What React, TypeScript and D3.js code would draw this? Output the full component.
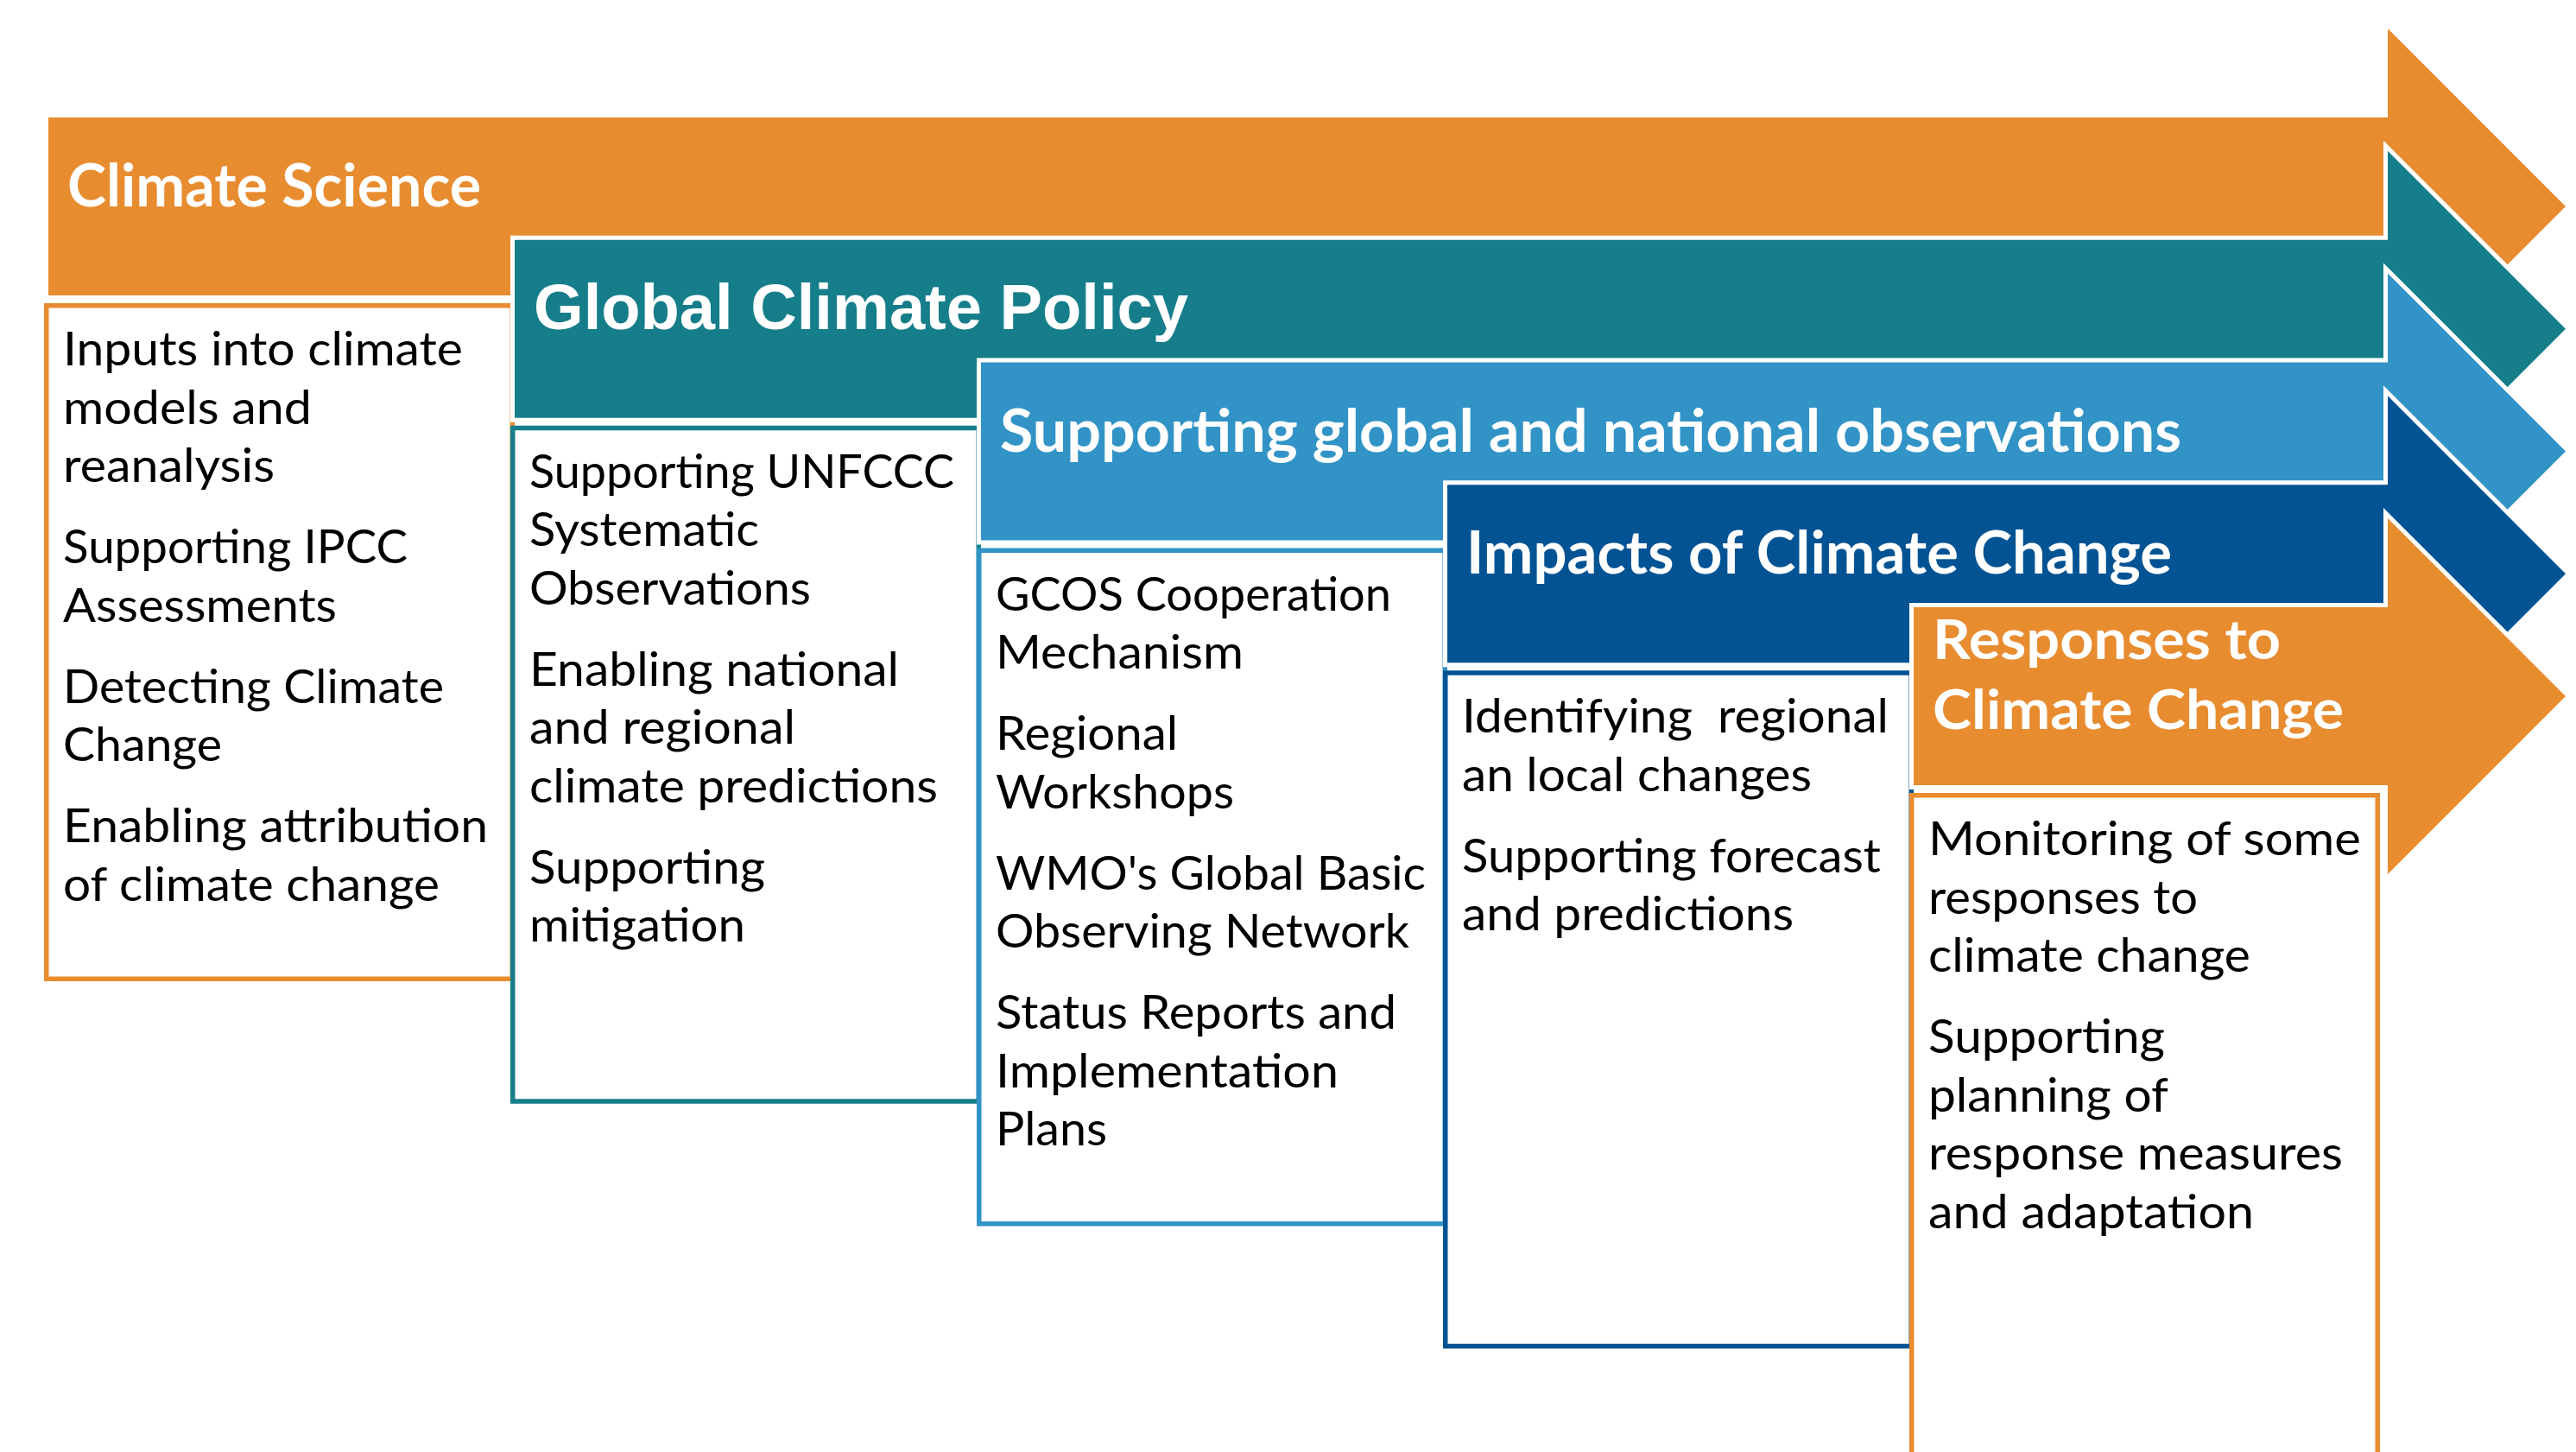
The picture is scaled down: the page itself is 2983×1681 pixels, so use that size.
import React from "react";
import * as d3 from "d3";

// ---------- data ----------
const STAGE_TITLES: string[][] = [
  ["Climate Science"],
  ["Global Climate Policy"],
  ["Supporting global and national observations"],
  ["Impacts of Climate Change"],
  ["Responses to", "Climate Change"],
];

const ITEMS_CLIMATE_SCIENCE: string[][] = [
  ["Inputs into climate", "models and", "reanalysis"],
  ["Supporting IPCC", "Assessments"],
  ["Detecting Climate", "Change"],
  ["Enabling attribution", "of climate change"],
];
const ITEMS_POLICY: string[][] = [
  ["Supporting UNFCCC", "Systematic", "Observations"],
  ["Enabling national", "and regional", "climate predictions"],
  ["Supporting", "mitigation"],
];
const ITEMS_OBSERVATIONS: string[][] = [
  ["GCOS Cooperation", "Mechanism"],
  ["Regional", "Workshops"],
  ["WMO's Global Basic", "Observing Network"],
  ["Status Reports and", "Implementation", "Plans"],
];
const ITEMS_IMPACTS: string[][] = [
  ["Identifying  regional", "an local changes"],
  ["Supporting forecast", "and predictions"],
];
const ITEMS_RESPONSES: string[][] = [
  ["Monitoring of some", "responses to", "climate change"],
  ["Supporting", "planning of", "response measures", "and adaptation"],
];
const STAGE_ITEMS = [
  ITEMS_CLIMATE_SCIENCE,
  ITEMS_POLICY,
  ITEMS_OBSERVATIONS,
  ITEMS_IMPACTS,
  ITEMS_RESPONSES,
];

// ---------- styles / layout ----------
const COLORS = ["#E88C30", "#167E8A", "#3193C6", "#025393", "#E88C30"];
const TITLE_FONTS = [
  "Lato, 'Open Sans', sans-serif",
  "'Liberation Sans', Arial, sans-serif",
  "Lato, 'Open Sans', sans-serif",
  "Lato, 'Open Sans', sans-serif",
  "Lato, 'Open Sans', sans-serif",
];
const TITLE_SIZES = [68, 75, 68, 68, 64];
// rendered text widths (typographic fit), per title line / body line
const TITLE_WIDTHS = [[479], [758], [1368], [817], [403, 476]];
const BODY_WIDTHS = [
  [463, 288, 245, 399, 317, 441, 184, 492, 436],
  [492, 266, 326, 428, 308, 473, 273, 250],
  [458, 287, 211, 276, 498, 479, 464, 397, 129],
  [494, 405, 485, 384],
  [501, 312, 373, 274, 278, 480, 377],
];

const W = 2983;
const H = 1681;
const BORDER = 5.5;
const BOX_H = 785;
const BAR_OFFSET = 215;
const BAR_H = 206;
const HEAD_X = 2765;
const TIP_X = 2971;
const HEAD_EXT = 103;
const LINE_STEP = 67.5;
const PARA_STEP = 94;

const xLeft = d3.scaleLinear().domain([0, 5]).range([51, 2751]);
const yTop = d3.scaleLinear().domain([0, 4]).range([351, 918]);

export default function App() {
  const line = d3.line<[number, number]>();
  return (
    <svg
      width={W}
      height={H}
      viewBox={`0 0 ${W} ${H}`}
      style={{ position: "absolute", left: 0, top: 0, display: "block", background: "#fff" }}
    >
      {STAGE_TITLES.map((title, i) => {
        const L = xLeft(i);
        const R = xLeft(i + 1) + 5;
        const T = yTop(i);
        const barL = L + 5;
        const barT = T - BAR_OFFSET;
        const barB = barT + BAR_H;
        const pts: [number, number][] = [
          [barL, barT],
          [HEAD_X, barT],
          [HEAD_X, barT - HEAD_EXT],
          [TIP_X, barT + BAR_H / 2],
          [HEAD_X, barB + HEAD_EXT],
          [HEAD_X, barB],
          [barL, barB],
        ];
        const d = line(pts) + "Z";
        // body line positions
        const body: { text: string; y: number; w: number }[] = [];
        let y = T + 72;
        let k = 0;
        STAGE_ITEMS[i].forEach((para, pi) => {
          if (pi > 0) y += PARA_STEP - LINE_STEP;
          para.forEach((t) => {
            body.push({ text: t, y, w: BODY_WIDTHS[i][k] });
            k += 1;
            y += LINE_STEP;
          });
        });
        y -= LINE_STEP;
        const titleStartY = title.length === 1 ? barT + 103 : barT + 60;
        return (
          <g key={i}>
            <path
              d={d}
              fill={COLORS[i]}
              stroke="#ffffff"
              strokeWidth={10}
              strokeLinejoin="miter"
              strokeMiterlimit={10}
              style={{ paintOrder: "stroke" }}
            />
            {title.map((t, j) => (
              <text
                key={j}
                x={barL + 22}
                y={titleStartY + j * 81}
                fill="#ffffff"
                fontFamily={TITLE_FONTS[i]}
                fontWeight={700}
                fontSize={TITLE_SIZES[i]}
                textLength={TITLE_WIDTHS[i][j]}
                lengthAdjust="spacingAndGlyphs"
              >
                {t}
              </text>
            ))}
            <rect
              x={L + BORDER / 2}
              y={T + BORDER / 2}
              width={R - L - BORDER}
              height={BOX_H - BORDER}
              fill="#ffffff"
              stroke={COLORS[i]}
              strokeWidth={BORDER}
            />
            {body.map((b, j) => (
              <text
                key={j}
                x={barL + 17}
                y={b.y}
                fill="#000000"
                fontFamily="Lato, 'Open Sans', sans-serif"
                fontSize={54}
                textLength={b.w}
                lengthAdjust="spacingAndGlyphs"
                style={{ whiteSpace: "pre" }}
              >
                {b.text}
              </text>
            ))}
          </g>
        );
      })}
    </svg>
  );
}
